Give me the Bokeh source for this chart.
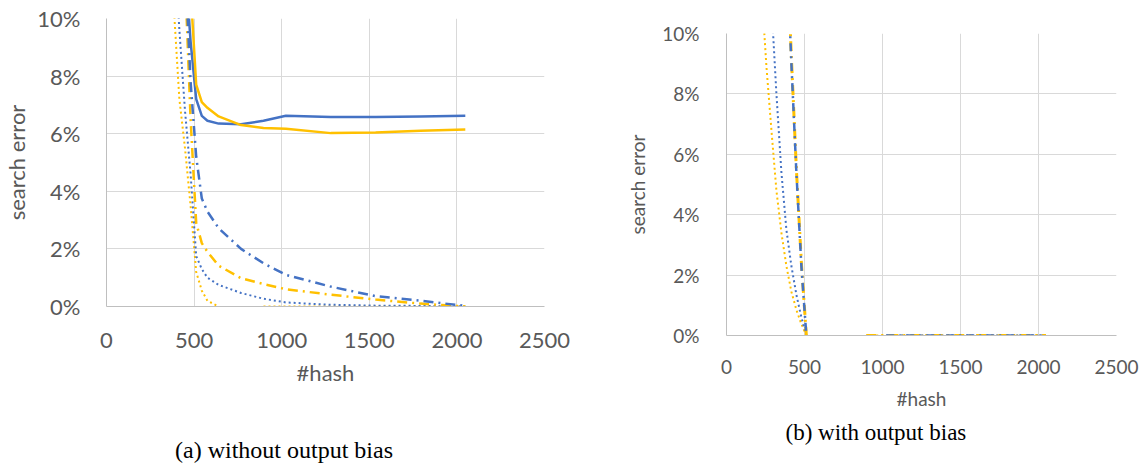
import numpy as np
from bokeh.plotting import figure
from bokeh.models import Range1d, SingleIntervalTicker, PrintfTickFormatter, Div
from bokeh.layouts import row, column
from bokeh.embed import file_html
from bokeh.resources import INLINE

nan = float("nan")

# ---------------- data (search error in %) ----------------
# (a) without output bias
hash_a = [384, 416, 448, 480, 512, 544, 576, 640, 768, 896, 1024, 1280, 1536, 1792, 2048]
a_blue_solid = [20, 15, 12, 9.2, 7.2, 6.62, 6.45, 6.35, 6.33, 6.45, 6.62, 6.58, 6.58, 6.6, 6.62]
a_yellow_solid = [25, 20, 15, 11, 7.7, 7.1, 6.9, 6.6, 6.3, 6.2, 6.17, 6.02, 6.04, 6.1, 6.15]
a_blue_dashdot = [20, 16, 12, 7.8, 5.2, 3.75, 3.3, 2.72, 2.0, 1.5, 1.1, 0.69, 0.36, 0.2, 0.02]
a_yellow_dashdot = [20, 14, 11.5, 6.5, 2.9, 2.2, 1.9, 1.42, 0.98, 0.78, 0.6, 0.41, 0.24, 0.1, 0.0]
a_blue_dotted = [13, 9.6, 6.8, 4.6, 1.75, 1.3, 1.0, 0.75, 0.47, 0.27, 0.14, 0.06, 0.03, 0.02, 0.0]
a_yellow_dotted = [10.4, 7.2, 5.5, 3.5, 1.2, 0.55, 0.2, 0.0, nan, 0.0, 0.0, 0.0, 0.0, 0.0, 0.0]

# (b) with output bias
hash_b = [224, 256, 288, 320, 352, 384, 416, 448, 480, 512, 640, 768, 896, 1024, 1280, 1536, 1792, 2048]
b_blue_dashdot = [60, 50, 40, 30, 20, 13, 9.0, 5.4, 2.3, 0.0, nan, nan, nan, 0.0, 0.0, 0.0, 0.0, 0.0]
b_yellow_dashdot = [60, 50, 40, 30, 20, 13.3, 9.2, 5.5, 2.4, 0.0, nan, nan, 0.0, 0.0, 0.0, 0.0, 0.0, 0.0]
b_blue_dotted = [20, 16, 11, 8.0, 5.4, 3.5, 2.3, 1.35, 0.6, 0.0, nan, nan, nan, 0.0, 0.0, 0.0, 0.0, 0.0]
b_yellow_dotted = [11.5, 8.9, 6.8, 4.8, 3.4, 2.3, 1.45, 0.85, 0.38, 0.0, nan, nan, 0.0, 0.0, 0.0, 0.0, 0.0, 0.0]

caption_a = "(a) without output bias"
caption_b = "(b) with output bias"

x_ticks_step = 500
y_ticks_step = 2
x_max = 2500
y_max = 10

BLUE = "#4472C4"
YELLOW = "#FFC000"
GRID = "#D9D9D9"
AXIS = "#BFBFBF"
TEXT = "#595959"
DOT = "2 3"
DASHDOT = "10 5 2 5"


def make_fig(width, height, bl, br, bt, bb, fs, lfs, ystand, xstand, ylab_stand, xlab_stand,
             caption=None):
    kw = {}
    if caption is not None:
        kw = dict(title=caption, title_location="below")
    p = figure(width=width, height=height, output_backend="svg", toolbar_location=None,
               x_range=Range1d(0, x_max), y_range=Range1d(0, y_max),
               min_border_left=bl, min_border_right=br, min_border_top=bt, min_border_bottom=bb,
               **kw)
    p.outline_line_color = None
    p.background_fill_color = "white"
    p.border_fill_color = "white"
    p.xaxis.ticker = SingleIntervalTicker(interval=x_ticks_step, num_minor_ticks=0)
    p.yaxis.ticker = SingleIntervalTicker(interval=y_ticks_step, num_minor_ticks=0)
    p.yaxis.formatter = PrintfTickFormatter(format="%d%%")
    for ax in (p.xaxis[0], p.yaxis[0]):
        ax.major_tick_line_color = None
        ax.minor_tick_line_color = None
        ax.axis_line_color = AXIS
        ax.axis_line_width = 1
        ax.major_label_text_color = TEXT
        ax.major_label_text_font = "Lato"
        ax.major_label_text_font_size = f"{fs}px"
        ax.axis_label_text_color = TEXT
        ax.axis_label_text_font = "Lato"
        ax.axis_label_text_font_size = f"{lfs}px"
        ax.axis_label_text_font_style = "normal"
    p.xaxis.axis_label = "#hash"
    p.yaxis.axis_label = "search error"
    p.yaxis.major_label_standoff = ystand
    p.xaxis.major_label_standoff = xstand
    p.yaxis.axis_label_standoff = ylab_stand
    p.xaxis.axis_label_standoff = xlab_stand
    p.xgrid.grid_line_color = GRID
    p.ygrid.grid_line_color = GRID
    p.xgrid.grid_line_width = 1
    p.ygrid.grid_line_width = 1
    return p


pa = make_fig(600, 425, 106, 56, 18, 119, 22, 22, 20, 20, 4, 8)
pa.title.visible = False
pa.line(hash_a, a_yellow_dotted, line_color=YELLOW, line_width=2, line_dash=DOT)
pa.line(hash_a, a_blue_dotted, line_color=BLUE, line_width=2, line_dash=DOT)
pa.line(hash_a, a_yellow_dashdot, line_color=YELLOW, line_width=2.5, line_dash=DASHDOT)
pa.line(hash_a, a_blue_dashdot, line_color=BLUE, line_width=2.5, line_dash=DASHDOT)
pa.line(hash_a, a_blue_solid, line_color=BLUE, line_width=2.5)
pa.line(hash_a, a_yellow_solid, line_color=YELLOW, line_width=2.5)

cap_a = Div(text=caption_a, width=600, height=43, margin=(0, 0, 0, 0),
            styles={"font-family": "Liberation Serif", "font-size": "24px", "color": "black",
                    "line-height": "26px", "padding-top": "12px", "padding-left": "175px",
                    "white-space": "nowrap", "box-sizing": "border-box"})

pb = make_fig(547, 468, 126, 31, 33, 133, 19, 19, 21, 18, 10, 10, caption=caption_b)
t = pb.title
t.align = "left"
t.offset = 59
t.standoff = 10
t.text_font = "Liberation Serif"
t.text_font_size = "23px"
t.text_font_style = "normal"
t.text_color = "black"
pb.line(hash_b, b_yellow_dotted, line_color=YELLOW, line_width=2, line_dash=DOT)
pb.line(hash_b, b_blue_dotted, line_color=BLUE, line_width=2, line_dash=DOT)
pb.line(hash_b, b_yellow_dashdot, line_color=YELLOW, line_width=3, line_dash=DASHDOT)
pb.line(hash_b, b_blue_dashdot, line_color=BLUE, line_width=2.5, line_dash="8 5 2 5")

layout = row(column(pa, cap_a), column(pb))
open("out.html", "w").write(file_html(layout, INLINE))
